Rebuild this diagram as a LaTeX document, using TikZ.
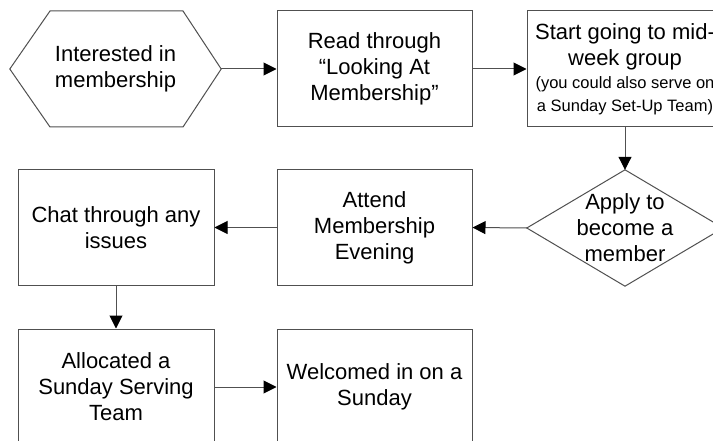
\documentclass[tikz,border=0pt]{standalone}
\usepackage{fontspec}
\setmainfont{Liberation Sans}
\usetikzlibrary{arrows.meta}
\definecolor{edge}{HTML}{505050}
\begin{document}
\begin{tikzpicture}[x=1pt,y=-1pt,
  bigfont/.style={font=\fontsize{22}{26}\selectfont},
  stepbox/.style={draw=edge,line width=1pt,minimum width=195pt,minimum height=116pt,align=center,bigfont,inner sep=0pt},
  ghost/.style={minimum width=#1,minimum height=116pt,align=center,bigfont,inner sep=0pt},
  shapeline/.style={draw=edge,line width=1pt},
  conn/.style={draw=edge,line width=1pt,-{Triangle[length=13pt,width=13pt,black]}}]
\useasboundingbox (0,0) rectangle (713,441);
\clip (0,0) rectangle (713,441);
\fill[white] (0,0) rectangle (713,441);
% hexagon
\node[ghost=211pt] (hex) at (115.5,69) {Interested in\\membership};
\draw[shapeline] (hex.west) -- (50,11) -- (183,11) -- (hex.east) -- (183,127) -- (50,127) -- cycle;
\node[stepbox] (read) at (374.5,69) {Read through\\``Looking At\\Membership''};
\node[stepbox,minimum width=196pt] (start) at (625,69) {Start going to mid-\\week group\\[-3pt]
  {\fontsize{16.5}{20}\selectfont (you could also serve on}\\[-3pt]
  {\fontsize{16.5}{20}\selectfont a Sunday Set-Up Team)}};
% diamond
\node[ghost=196pt] (apply) at (625,228) {};
\draw[shapeline] (apply.north) -- (apply.east) -- (apply.south) -- (apply.west) -- cycle;
\node[align=center,bigfont,inner sep=0pt] (applytext) at (625,228) {Apply to\\become a\\member};
\node[stepbox] (attend) at (374.5,227.5) {Attend\\Membership\\Evening};
\node[stepbox,minimum width=196pt] (chat) at (116,227.5) {Chat through any\\issues};
\node[stepbox,minimum width=196pt] (alloc) at (116,387) {Allocated a\\Sunday Serving\\Team};
\node[stepbox] (welcome) at (374.5,387) {Welcomed in on a\\Sunday};
% connectors
\draw[conn] (hex.east) -- (read.west);
\draw[conn] (read.east) -- (start.west);
\draw[conn] (start.south) -- (apply.north);
\draw[conn] (apply.west) -- (attend.east);
\draw[conn] (attend.west) -- (chat.east);
\draw[conn] (chat.south) -- (alloc.north);
\draw[conn] (alloc.east) -- (welcome.west);
\end{tikzpicture}
\end{document}
